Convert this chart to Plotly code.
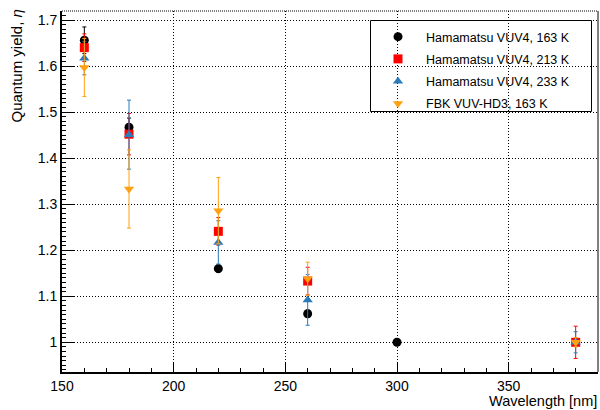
import plotly.graph_objects as go

# ---- data ----
labels = ["Hamamatsu VUV4, 163 K", "Hamamatsu VUV4, 213 K",
          "Hamamatsu VUV4, 233 K", "FBK VUV-HD3, 163 K"]

wl_h163 = [160, 180, 220, 260, 300]
qy_h163 = [1.656, 1.467, 1.160, 1.062, 1.000]
er_h163 = [0.029, 0.020, 0.008, 0.008, 0.004]

wl_h213 = [160, 180, 220, 260, 380]
qy_h213 = [1.640, 1.452, 1.241, 1.133, 1.000]
er_h213 = [0.030, 0.045, 0.030, 0.030, 0.035]

wl_h233 = [160, 180, 220, 260, 380]
qy_h233 = [1.617, 1.451, 1.217, 1.092, 1.000]
er_h233 = [0.036, 0.075, 0.047, 0.055, 0.023]

wl_fbk = [160, 180, 220, 260, 380]
qy_fbk = [1.597, 1.333, 1.286, 1.138, 1.000]
er_fbk = [0.063, 0.085, 0.072, 0.036, 0.010]

y_tickvals = [1.0, 1.1, 1.2, 1.3, 1.4, 1.5, 1.6, 1.7]
y_ticktext = ["1", "1.1", "1.2", "1.3", "1.4", "1.5", "1.6", "1.7"]
x_tickvals = [150, 200, 250, 300, 350]
x_ticktext = ["150", "200", "250", "300", "350"]

colors = ["#000000", "#ff0000", "#2b7bba", "#ffa010"]
symbols = ["circle", "square", "triangle-up", "triangle-down"]
sizes = [9, 9, 9, 9]

series = [(wl_h163, qy_h163, er_h163), (wl_h213, qy_h213, er_h213),
          (wl_h233, qy_h233, er_h233), (wl_fbk, qy_fbk, er_fbk)]

FONT = "Liberation Sans, Arial, Helvetica, sans-serif"

fig = go.Figure()
for i, (x, y, e) in enumerate(series):
    fig.add_trace(go.Scatter(
        x=x, y=y, mode="markers", name=labels[i], legendgroup=f"g{i}",
        marker=dict(symbol=symbols[i], size=sizes[i], color=colors[i],
                    line=dict(width=0)),
        error_y=dict(type="data", array=e, visible=True, color=colors[i],
                     thickness=1, width=2),
    ))

L, R, T, B = 62, 2, 11, 38
W, H = 600, 410
pw = W - L - R
ph = H - T - B

def px_to_paper_x(px):
    return (px - L) / pw

def px_to_paper_y(py):
    return 1 - (py - T) / ph

fig.update_layout(
    width=W, height=H,
    margin=dict(l=L, r=R, t=T, b=B),
    paper_bgcolor="white", plot_bgcolor="white",
    font=dict(family=FONT, size=14, color="black"),
    showlegend=True,
    legend=dict(
        x=px_to_paper_x(370), y=px_to_paper_y(22), xanchor="left", yanchor="top",
        bgcolor="rgba(0,0,0,0)", borderwidth=0,
        font=dict(family=FONT, size=12.5, color="black"),
        itemwidth=46, tracegroupgap=3,
    ),
    xaxis=dict(
        range=[150, 390], tickmode="array", tickvals=x_tickvals, ticktext=x_ticktext,
        ticks="inside", ticklen=10, tickwidth=1, tickcolor="black",
        minor=dict(dtick=10, tick0=150, ticks="inside", ticklen=4, tickcolor="black", showgrid=False),
        showgrid=True, gridcolor="black", griddash="1px,2px", gridwidth=1,
        showline=True, linecolor="black", linewidth=2, zeroline=False,
        tickfont=dict(size=14),
    ),
    yaxis=dict(
        range=[0.9355, 1.7196], tickmode="array", tickvals=y_tickvals, ticktext=y_ticktext,
        ticks="inside", ticklen=12, tickwidth=1, tickcolor="black",
        minor=dict(dtick=0.01, tick0=1.0, ticks="inside", ticklen=4, tickcolor="black", showgrid=False),
        showgrid=True, gridcolor="black", griddash="1px,2px", gridwidth=1,
        showline=True, linecolor="black", linewidth=2, zeroline=False,
        tickfont=dict(size=14),
    ),
    shapes=[
        dict(type="line", xref="paper", yref="paper", x0=1, x1=1, y0=0, y1=1,
             line=dict(color="black", width=1)),
        dict(type="line", xref="paper", yref="paper", x0=0, x1=1, y0=1, y1=1,
             line=dict(color="black", width=1, dash="1px,1px")),
        dict(type="rect", xref="paper", yref="paper",
             x0=px_to_paper_x(370.5), x1=px_to_paper_x(591.5),
             y0=px_to_paper_y(111.5), y1=px_to_paper_y(20.5),
             line=dict(color="black", width=1), fillcolor="white", layer="below"),
    ],
    annotations=[
        dict(text="Wavelength [nm]", xref="paper", yref="paper",
             x=1, y=0, yshift=-38, xanchor="right", yanchor="bottom",
             showarrow=False, font=dict(size=14.5), borderpad=0),
        dict(text="Quantum yield, <i>η</i>", xref="paper", yref="paper",
             x=px_to_paper_x(16), y=px_to_paper_y(8), xanchor="center", yanchor="top",
             textangle=-90, showarrow=False, font=dict(size=15)),
    ],
)

fig.write_html("out.html")
